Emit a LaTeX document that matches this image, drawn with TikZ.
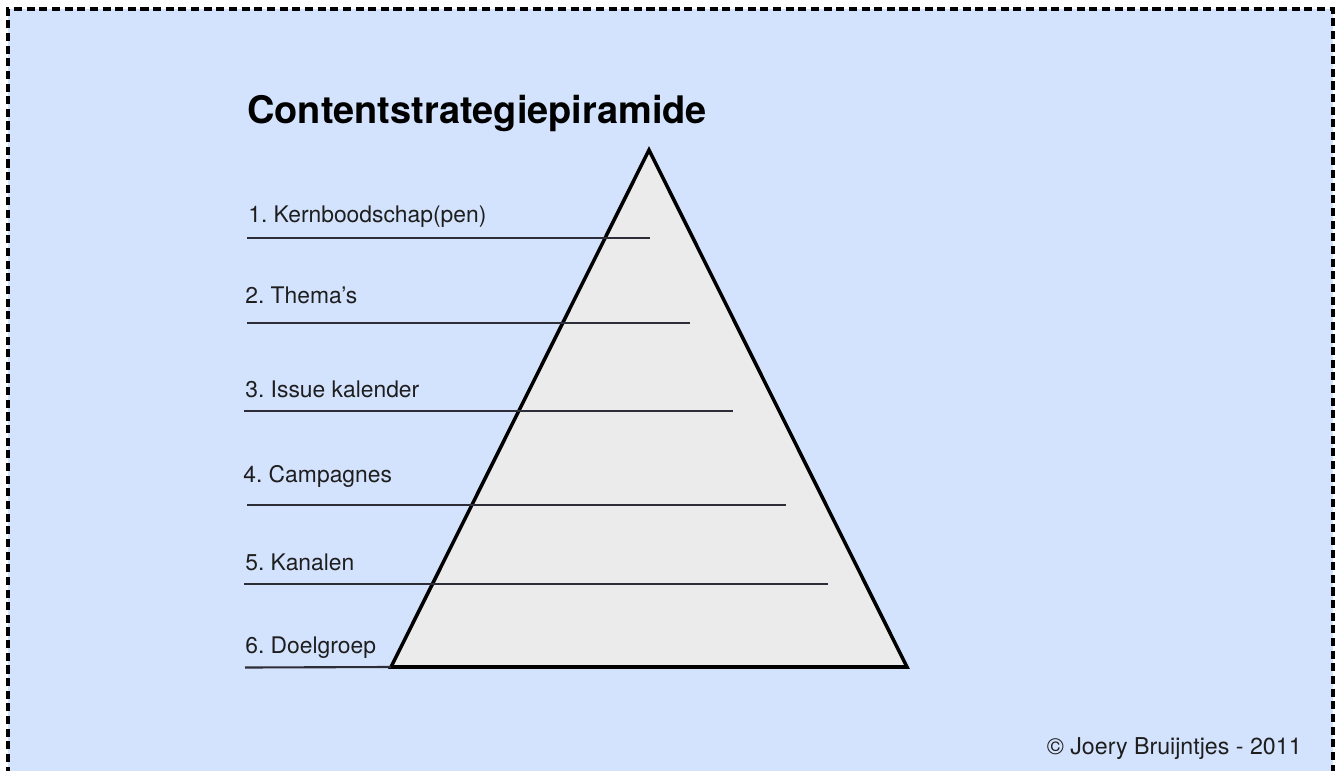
\documentclass[tikz,border=0pt]{standalone}
\usepackage{fontspec}
\setmainfont{TeX Gyre Heros}
\usepackage{tikz}
\frenchspacing

\definecolor{paneblue}{RGB}{212,227,253}
\definecolor{pyrfill}{RGB}{235,235,235}
\definecolor{rulegrey}{RGB}{45,45,55}
\definecolor{labeltext}{RGB}{30,30,30}

\begin{document}
\begin{tikzpicture}[x=0.02cm,y=-0.02cm,
        layer/.style={anchor=base west,inner sep=0pt,font=\fontsize{13}{15}\selectfont,text=labeltext},
        rule/.style={draw=rulegrey,line width=1.2pt}]
            \useasboundingbox (0,0) rectangle (1340,771);
            \clip (0,0) rectangle (1340,771);
            % panel with dashed edge (runs off at the bottom)
            \fill [paneblue] (8,9) rectangle (1333,800);
            \draw [line width=2.1pt,dash pattern=on 4.6pt off 2.6pt] (8,800) -- (8,9) -- (1333,9) -- (1333,800);
            \node [anchor=base west,inner sep=0pt,font=\fontsize{21.6}{25}\selectfont\bfseries] (title) at (247,123) {Contentstrategiepiramide};
            % pyramid
            \coordinate (top) at (649,150);
            \coordinate (left) at (391,667);
            \coordinate (right) at (907,667);
            \filldraw [fill=pyrfill,line width=2pt,line join=miter] (top) -- (right) -- (left) -- cycle;
            % layers
            \draw [rule] (247,238) -- (650,238);
            \draw [rule] (247,323) -- (690,323);
            \draw [rule] (244,411) -- (733,411);
            \draw [rule] (247,505) -- (786,505);
            \draw [rule] (244,584) -- (828,584);
            \draw [rule] (245,667.5) -- (left);
            \node [layer] (kern) at (248,222) {1. Kernboodschap(pen)};
            \node [layer] (themas) at (245,303) {2. Thema’s};
            \node [layer] (issue) at (245,397) {3. Issue kalender};
            \node [layer] (camp) at (243,482) {4. Campagnes};
            \node [layer] (kanalen) at (245,570) {5. Kanalen};
            \node [layer] (doel) at (245,653) {6. Doelgroep};
            \node [anchor=base east,inner sep=0pt,font=\fontsize{13.2}{15}\selectfont,text=labeltext] (credit) at (1302,754) {© Joery Bruijntjes - 2011};
\end{tikzpicture}
\end{document}
